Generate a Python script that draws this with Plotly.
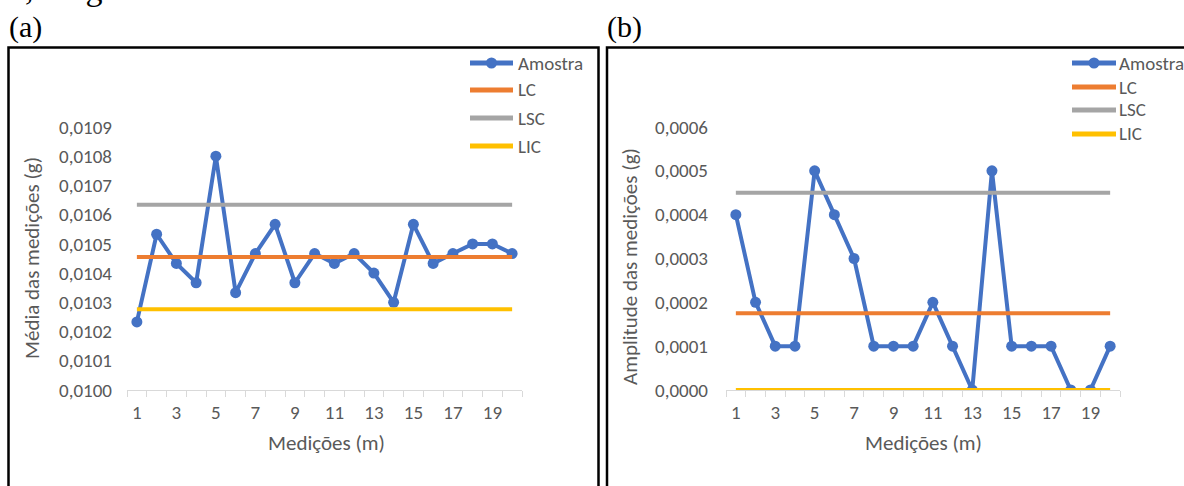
import plotly.graph_objects as go

# Control chart data (20 measurements)
medicoes = list(range(1, 21))
media = [0.010233, 0.010533, 0.010433, 0.010367, 0.010800, 0.010333, 0.010467,
         0.010567, 0.010367, 0.010467, 0.010433, 0.010467, 0.010400, 0.010300,
         0.010567, 0.010433, 0.010467, 0.010500, 0.010500, 0.010467]
amplitude = [0.0004, 0.0002, 0.0001, 0.0001, 0.0005, 0.0004, 0.0003, 0.0001,
             0.0001, 0.0001, 0.0002, 0.0001, 0.0000, 0.0005, 0.0001, 0.0001,
             0.0001, 0.0000, 0.0000, 0.0001]

# Control limits: centre line, upper and lower limits
media_lc, media_lsc, media_lic = 0.010455, 0.010634, 0.010276
amp_lc, amp_lsc, amp_lic = 0.000175, 0.000450, 0.0

x_ticks = [1, 3, 5, 7, 9, 11, 13, 15, 17, 19]
series_names = ["Amostra", "LC", "LSC", "LIC"]

W, H = 1184, 486
BLUE, ORANGE, GRAY, YELLOW = "#4472C4", "#ED7D31", "#A5A5A5", "#FFC000"
TXT = "#595959"
FONT = "Carlito, Lato, sans-serif"
SERIF = "Liberation Serif, Times New Roman, serif"


def px(x):
    return x / W


def py(y):
    return 1 - y / H


fig = go.Figure()


def add_panel(xa, ya, values, lc, lsc, lic):
    n = len(medicoes)
    fig.add_trace(go.Scatter(x=medicoes, y=values, mode="lines+markers",
                             line=dict(color=BLUE, width=4),
                             marker=dict(color=BLUE, size=11),
                             xaxis=xa, yaxis=ya, showlegend=False,
                             name=series_names[0]))
    for name, val, col in [("LC", lc, ORANGE), ("LSC", lsc, GRAY), ("LIC", lic, YELLOW)]:
        fig.add_trace(go.Scatter(x=medicoes, y=[val] * n, mode="lines",
                                 line=dict(color=col, width=4),
                                 xaxis=xa, yaxis=ya, showlegend=False, name=name))


add_panel("x", "y", media, media_lc, media_lsc, media_lic)
add_panel("x2", "y2", amplitude, amp_lc, amp_lsc, amp_lic)

xaxis_common = dict(range=[0.5, 20.5], tickvals=x_ticks, ticktext=[str(v) for v in x_ticks],
                    ticks="", showgrid=False, zeroline=False, showline=True,
                    linecolor="#D9D9D9", linewidth=1,
                    tickfont=dict(family=FONT, size=19, color=TXT),
                    ticklabelstandoff=5,
                    minor=dict(tick0=0.5, dtick=1, ticks="outside", ticklen=6,
                               tickcolor="#D9D9D9", tickwidth=1, showgrid=False))
yaxis_common = dict(showgrid=False, zeroline=False, showline=False, ticks="",
                    tickformat=".4f", tickfont=dict(family=FONT, size=19, color=TXT))

ydom = [py(390), py(127)]
fig.update_layout(
    width=W, height=H, margin=dict(l=0, r=0, t=0, b=0, autoexpand=False),
    paper_bgcolor="white", plot_bgcolor="white", separators=",.",
    showlegend=False,
    xaxis=dict(domain=[px(127), px(522)], anchor="y", **xaxis_common),
    yaxis=dict(domain=ydom, anchor="x", range=[0.0100, 0.0109], dtick=0.0001,
               ticklabelstandoff=14, **yaxis_common),
    xaxis2=dict(domain=[px(726), px(1120)], anchor="y2", **xaxis_common),
    yaxis2=dict(domain=ydom, anchor="x2", range=[0, 0.0006], dtick=0.0001,
                ticklabelstandoff=17, **yaxis_common),
)

shapes = []
annotations = []

# Panel frames
for x0, x1 in [(8.5, 598.5), (607, 1190)]:
    shapes.append(dict(type="rect", xref="paper", yref="paper",
                       x0=px(x0), x1=px(x1), y0=py(495), y1=py(47.5),
                       line=dict(color="black", width=2.5)))

# Panel labels
for lbl, x in [("(a)", 7), ("(b)", 605)]:
    annotations.append(dict(text=lbl, x=px(x), y=py(27), xref="paper", yref="paper",
                            xanchor="left", yanchor="middle", showarrow=False,
                            font=dict(family=SERIF, size=30, color="black")))

# Caption line above the panels
annotations.append(dict(text="0,5 mg", x=px(6), y=py(9), xref="paper", yref="paper",
                        xanchor="left", yanchor="bottom", showarrow=False,
                        font=dict(family=SERIF, size=34, color="black")))

# Axis titles
for txt, x, yc in [("Média das medições (g)", 32, 258), ("Amplitude das medições (g)", 630, 267)]:
    annotations.append(dict(text=txt, x=px(x), y=py(yc), xref="paper", yref="paper",
                            textangle=-90, xanchor="center", yanchor="middle",
                            showarrow=False, font=dict(family=FONT, size=21, color=TXT)))
for x in [326, 923]:
    annotations.append(dict(text="Medições (m)", x=px(x), y=py(443), xref="paper",
                            yref="paper", xanchor="center", yanchor="middle",
                            showarrow=False, font=dict(family=FONT, size=21, color=TXT)))

# Legends
legend_colors = [BLUE, ORANGE, GRAY, YELLOW]
for lx0, lx1, tx, ys in [(470, 513, 516, [63, 90, 118, 146]),
                         (1072, 1116, 1117, [63, 87, 110, 134])]:
    for name, col, yy in zip(series_names, legend_colors, ys):
        shapes.append(dict(type="line", xref="paper", yref="paper",
                           x0=px(lx0), x1=px(lx1), y0=py(yy), y1=py(yy),
                           line=dict(color=col, width=5)))
        if name == "Amostra":
            cx = (lx0 + lx1) / 2
            shapes.append(dict(type="circle", xref="paper", yref="paper",
                               x0=px(cx - 5.5), x1=px(cx + 5.5),
                               y0=py(yy + 5.5), y1=py(yy - 5.5),
                               fillcolor=col, line=dict(color=col, width=0)))
        annotations.append(dict(text=name, x=px(tx), y=py(yy), xref="paper", yref="paper",
                                xanchor="left", yanchor="middle", showarrow=False,
                                font=dict(family=FONT, size=19, color=TXT)))

fig.update_layout(shapes=shapes, annotations=annotations)
fig.write_html("out.html")
